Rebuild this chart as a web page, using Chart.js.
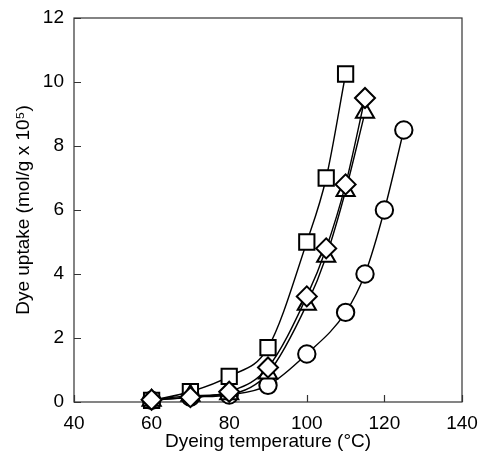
<!DOCTYPE html>
<html>
<head>
<meta charset="utf-8">
<script src="https://cdn.jsdelivr.net/npm/chart.js@4/dist/chart.umd.min.js"></script>
<style>
  html, body { margin: 0; padding: 0; background: #fff; }
  #wrap { width: 481px; height: 468px; }
</style>
</head>
<body>
<div id="wrap"><canvas id="c"></canvas></div>
<script>
// dyeing temperature (°C) vs dye uptake (mol/g x 10^5)
const squareT = [60, 70, 80, 90, 100, 105, 110];
const squareY = [0.05, 0.32, 0.8, 1.7, 5.0, 7.0, 10.25];
const diamondT = [60, 70, 80, 90, 100, 105, 110, 115];
const diamondY = [0.07, 0.15, 0.32, 1.08, 3.3, 4.8, 6.8, 9.5];
const triangleT = [60, 70, 80, 90, 100, 105, 110, 115];
const triangleY = [0.05, 0.2, 0.25, 0.9, 3.05, 4.55, 6.6, 9.05];
const circleT = [60, 70, 80, 90, 100, 110, 115, 120, 125];
const circleY = [0.05, 0.15, 0.22, 0.52, 1.5, 2.8, 4.0, 6.0, 8.5];
const xTicks = [40, 60, 80, 100, 120, 140];
const yTicks = [0, 2, 4, 6, 8, 10, 12];

const FONT = "'Liberation Sans', Arial, sans-serif";
const AXIS = "#333";

const pts = (xs, ys) => xs.map((x, i) => ({ x, y: ys[i] }));

const ds = (label, xs, ys, pointStyle, radius) => ({
  label,
  data: pts(xs, ys),
  pointStyle,
  pointRadius: radius,
  pointHoverRadius: radius,
  pointBackgroundColor: "#fff",
  pointBorderColor: "#000",
  pointBorderWidth: 2,
  borderColor: "#000",
  borderWidth: 1.4,
  cubicInterpolationMode: "monotone",
  fill: false,
  clip: false
});

// frame + inward tick marks, drawn under the markers
const frameTicks = {
  id: "frameTicks",
  beforeDatasetsDraw(chart) {
    const { ctx, chartArea: a, scales: { x, y } } = chart;
    ctx.save();
    ctx.strokeStyle = AXIS;
    ctx.lineWidth = 1.2;
    ctx.strokeRect(a.left, a.top, a.right - a.left, a.bottom - a.top);
    ctx.beginPath();
    for (const v of xTicks) {
      const px = Math.round(x.getPixelForValue(v)) + 0.5;
      ctx.moveTo(px, a.bottom);
      ctx.lineTo(px, a.bottom - 7);
    }
    for (const v of yTicks) {
      const py = Math.round(y.getPixelForValue(v)) + 0.5;
      ctx.moveTo(a.left, py);
      ctx.lineTo(a.left + 7, py);
    }
    ctx.stroke();
    ctx.restore();
  }
};

new Chart(document.getElementById("c"), {
  type: "line",
  data: {
    datasets: [
      ds("diamond", diamondT, diamondY, "rectRot", 10),
      ds("triangle", triangleT, triangleY, "triangle", 10.5),
      ds("square", squareT, squareY, "rect", 10.8),
      ds("circle", circleT, circleY, "circle", 8.7)
    ]
  },
  options: {
    responsive: true,
    maintainAspectRatio: false,
    animation: false,
    layout: { padding: { left: 0, top: 18, right: 19, bottom: 0 } },
    plugins: { legend: { display: false }, tooltip: { enabled: false } },
    scales: {
      x: {
        type: "linear",
        min: 40,
        max: 140,
        afterBuildTicks: (s) => { s.ticks = xTicks.map(v => ({ value: v })); },
        afterFit: (s) => { s.height = 66; s.paddingLeft = 0; s.paddingRight = 0; },
        grid: { display: false, drawTicks: false },
        border: { display: false },
        ticks: { color: "#000", padding: 10, font: { family: FONT, size: 19 } },
        title: {
          display: true,
          text: "Dyeing temperature (°C)",
          color: "#000",
          font: { family: FONT, size: 19 },
          padding: { bottom: 15 }
        }
      },
      y: {
        min: 0,
        max: 12,
        afterBuildTicks: (s) => { s.ticks = yTicks.map(v => ({ value: v })); },
        afterFit: (s) => { s.width = 74; s.paddingTop = 0; s.paddingBottom = 0; },
        grid: { display: false, drawTicks: false },
        border: { display: false },
        ticks: { color: "#000", padding: 10, font: { family: FONT, size: 19 } },
        title: {
          display: true,
          text: "Dye uptake (mol/g x 10⁵)",
          color: "#000",
          font: { family: FONT, size: 19 },
          padding: { top: 12 }
        }
      }
    }
  },
  plugins: [frameTicks]
});
</script>
</body>
</html>
